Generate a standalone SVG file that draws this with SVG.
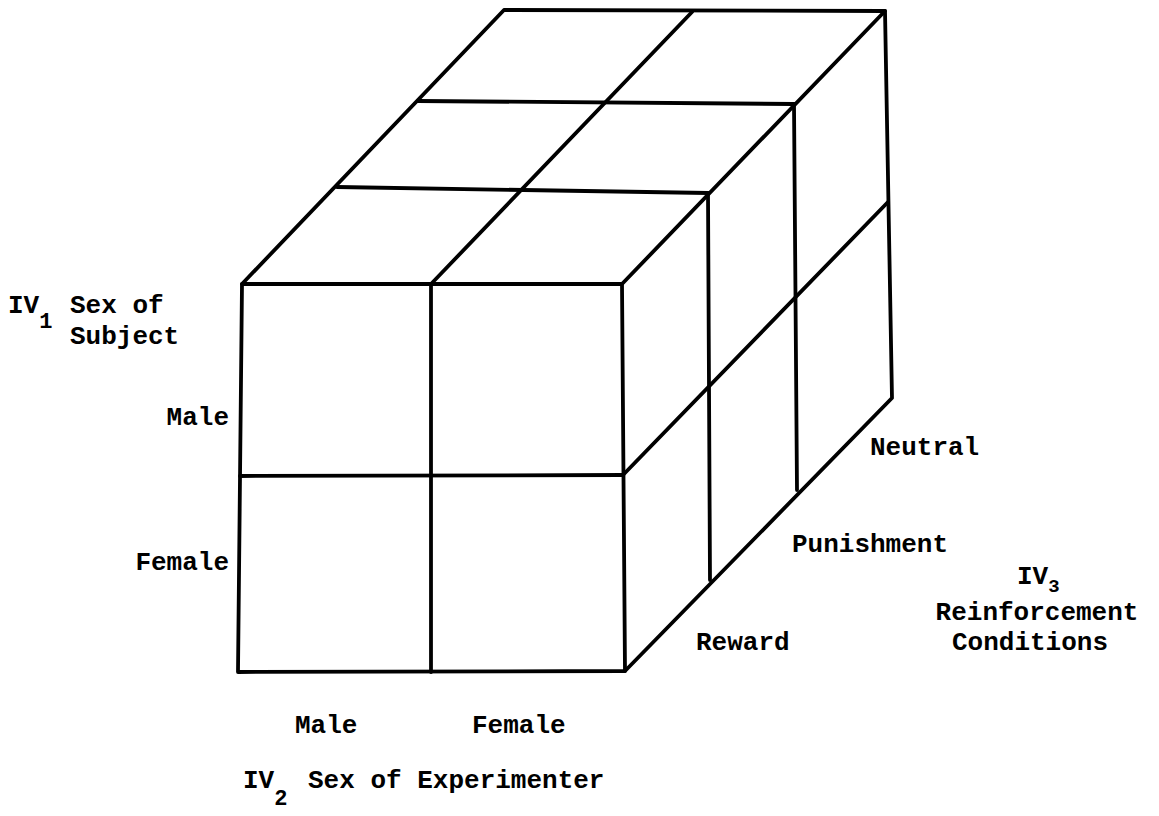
<svg xmlns="http://www.w3.org/2000/svg" width="1159" height="816" viewBox="0 0 1159 816">
<style>
.ln{fill:none;stroke:#000;stroke-width:3.8;stroke-linecap:round;stroke-linejoin:round}
.t{font-family:"Liberation Mono","DejaVu Sans Mono",monospace;font-weight:bold;font-size:26px;fill:#000}
.s{font-size:22px}
.s3{font-size:19px}
</style>
<rect width="1159" height="816" fill="#fff"/>
<g id="top-face" class="ln">
<path d="M242,284 L504,10 L885,11 L622,284"/>
<path d="M337,187 L708,193"/>
<path d="M418,101 L794,104"/>
<path d="M432,283 L692,12"/>
</g>
<g id="front-face" class="ln">
<path d="M242,284 L622,284 L625,671 L238,672 Z"/>
<path d="M431,284 L431,672"/>
<path d="M240,476 L623,475"/>
</g>
<g id="right-face" class="ln">
<path d="M625,671 L892,398 L885,11"/>
<path d="M708,193 L710,580"/>
<path d="M794,104 L797,490"/>
<path d="M623,475 L888,202"/>
</g>
<g id="labels" class="t">
<text x="8" y="313">IV<tspan class="s" dy="15">1</tspan></text>
<text x="70" y="313">Sex of</text>
<text x="70" y="344">Subject</text>
<text x="229" y="425" text-anchor="end">Male</text>
<text x="229" y="570" text-anchor="end">Female</text>
<text x="295" y="733">Male</text>
<text x="472" y="733">Female</text>
<text x="243" y="788">IV<tspan class="s" dy="17">2</tspan></text>
<text x="308" y="788">Sex of Experimenter</text>
<text x="696" y="650">Reward</text>
<text x="792" y="552">Punishment</text>
<text x="870" y="455">Neutral</text>
<text x="1017" y="584">IV<tspan class="s3" dy="8">3</tspan></text>
<text x="1037" y="620" text-anchor="middle">Reinforcement</text>
<text x="1030" y="650" text-anchor="middle">Conditions</text>
</g>
</svg>
